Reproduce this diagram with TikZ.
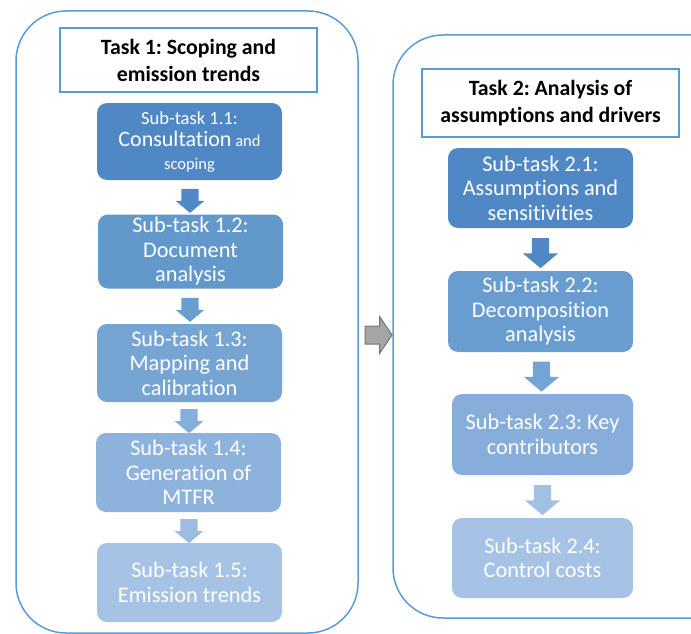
\documentclass[tikz,border=0pt]{standalone}
\usepackage{fontspec}
\setmainfont{Carlito}[Ligatures=NoCommon]
\usetikzlibrary{shapes.arrows,calc}
\definecolor{frame}{HTML}{5B9BD5}
\definecolor{cA}{HTML}{4F88C4}
\definecolor{cB}{HTML}{6398CB}
\definecolor{cC}{HTML}{76A5D4}
\definecolor{cD}{HTML}{8DB3DC}
\definecolor{cE}{HTML}{A6C3E5}
\definecolor{rB}{HTML}{6A9DCF}
\definecolor{rC}{HTML}{87AEDA}
\definecolor{aB}{HTML}{6B9ED0}
\definecolor{aC}{HTML}{85AED9}
\definecolor{aD}{HTML}{9CBDE0}
\definecolor{raB}{HTML}{74A4D4}
\definecolor{raC}{HTML}{A2C0E3}
\definecolor{grayfill}{HTML}{A5A5A5}
\definecolor{grayline}{HTML}{737373}
\begin{document}
\frenchspacing
\begin{tikzpicture}[x=1pt,y=-1pt,
  outer/.style={draw=frame, line width=1.5pt, rounded corners=50pt, inner sep=0pt},
  titlebox/.style={draw=frame, line width=1.5pt, fill=white, align=center,
    font=\bfseries\fontsize{21.8}{27}\selectfont, inner sep=0pt},
  sub/.style={rounded corners=10pt, text=white, align=center, inner sep=0pt,
    font=\fontsize{22.3}{24.5}\selectfont},
  barrow/.style={single arrow, rotate=-90, inner xsep=0pt, inner ysep=8.5pt,
    text height=0pt, text depth=0pt, single arrow tip angle=100},
  larrow/.style={barrow, minimum height=24pt, single arrow head extend=5.5pt, minimum width=28pt},
  rarrow/.style={barrow, minimum height=30pt, single arrow head extend=9pt, minimum width=35pt},
]
\useasboundingbox (0,0) rectangle (691,634);
\begin{scope}
\clip (0,0) rectangle (691,634);
\node[outer, minimum width=342pt, minimum height=622pt] (L) at (187,322) {};
\node[outer, minimum width=352pt, minimum height=583pt] (R) at (569,326.5) {};
\end{scope}

% Task 1
\node[titlebox, minimum width=257pt, minimum height=64pt] (t1) at (188.5,60) {Task 1: Scoping and\\emission trends};
\node[sub, fill=cA, minimum width=185pt, minimum height=77pt, font=\fontsize{16.5}{22.5}\selectfont] (b11) at (189.5,141.5)
  {{\fontsize{18.5}{22.5}\selectfont Sub-task 1.1:}\\{\fontsize{22}{22.5}\selectfont Consultation} and\\scoping};
\node[sub, fill=cB, minimum width=185pt, minimum height=74pt] (b12) at (190.5,251.5) {Sub-task 1.2:\\Document\\analysis};
\node[sub, fill=cC, minimum width=185pt, minimum height=78pt] (b13) at (189.5,363) {Sub-task 1.3:\\Mapping and\\calibration};
\node[sub, fill=cD, minimum width=185pt, minimum height=79pt] (b14) at (188.5,472.5) {Sub-task 1.4:\\Generation of\\MTFR};
\node[sub, fill=cE, minimum width=185pt, minimum height=79pt] (b15) at (189.5,582.5) {Sub-task 1.5:\\Emission trends};

\node[larrow, fill=cA] (a1) at ($(b11.south)!0.5!(b12.north)$) {};
\node[larrow, fill=aB] (a2) at ($(b12.south)!0.5!(b13.north)$) {};
\node[larrow, fill=aC] (a3) at ($(b13.south)!0.5!(b14.north)$) {};
\node[larrow, fill=aD] (a4) at ($(b14.south)!0.5!(b15.north)$) {};

% Task 2
\node[titlebox, minimum width=257pt, minimum height=68pt] (t2) at (550.5,103) {Task 2: Analysis of\\assumptions and drivers};
\node[sub, fill=cA, minimum width=185pt, minimum height=80pt] (b21) at (540.5,188) {Sub-task 2.1:\\Assumptions and\\sensitivities};
\node[sub, fill=rB, minimum width=185pt, minimum height=81pt] (b22) at (540.5,311.5) {Sub-task 2.2:\\Decomposition\\analysis};
\node[sub, fill=rC, minimum width=181pt, minimum height=81pt] (b23) at (542.5,434.5) {Sub-task 2.3: Key\\contributors};
\node[sub, fill=cE, minimum width=181pt, minimum height=80pt] (b24) at (542.5,558) {Sub-task 2.4:\\Control costs};

\node[rarrow, fill=cA] (r1) at ($(b21.south)!0.5!(b22.north)$) {};
\node[rarrow, fill=raB] (r2) at ($(b22.south)!0.5!(b23.north)$) {};
\node[rarrow, fill=raC] (r3) at ($(b23.south)!0.5!(b24.north)$) {};

% link arrow
\node[single arrow, draw=grayline, fill=grayfill, line width=1pt, inner xsep=0pt, inner ysep=8.5pt,
  text height=0pt, text depth=0pt, minimum height=27pt, single arrow head extend=9.5pt,
  minimum width=36pt, single arrow tip angle=112] (g) at (375.5,335) {};
\end{tikzpicture}
\end{document}
